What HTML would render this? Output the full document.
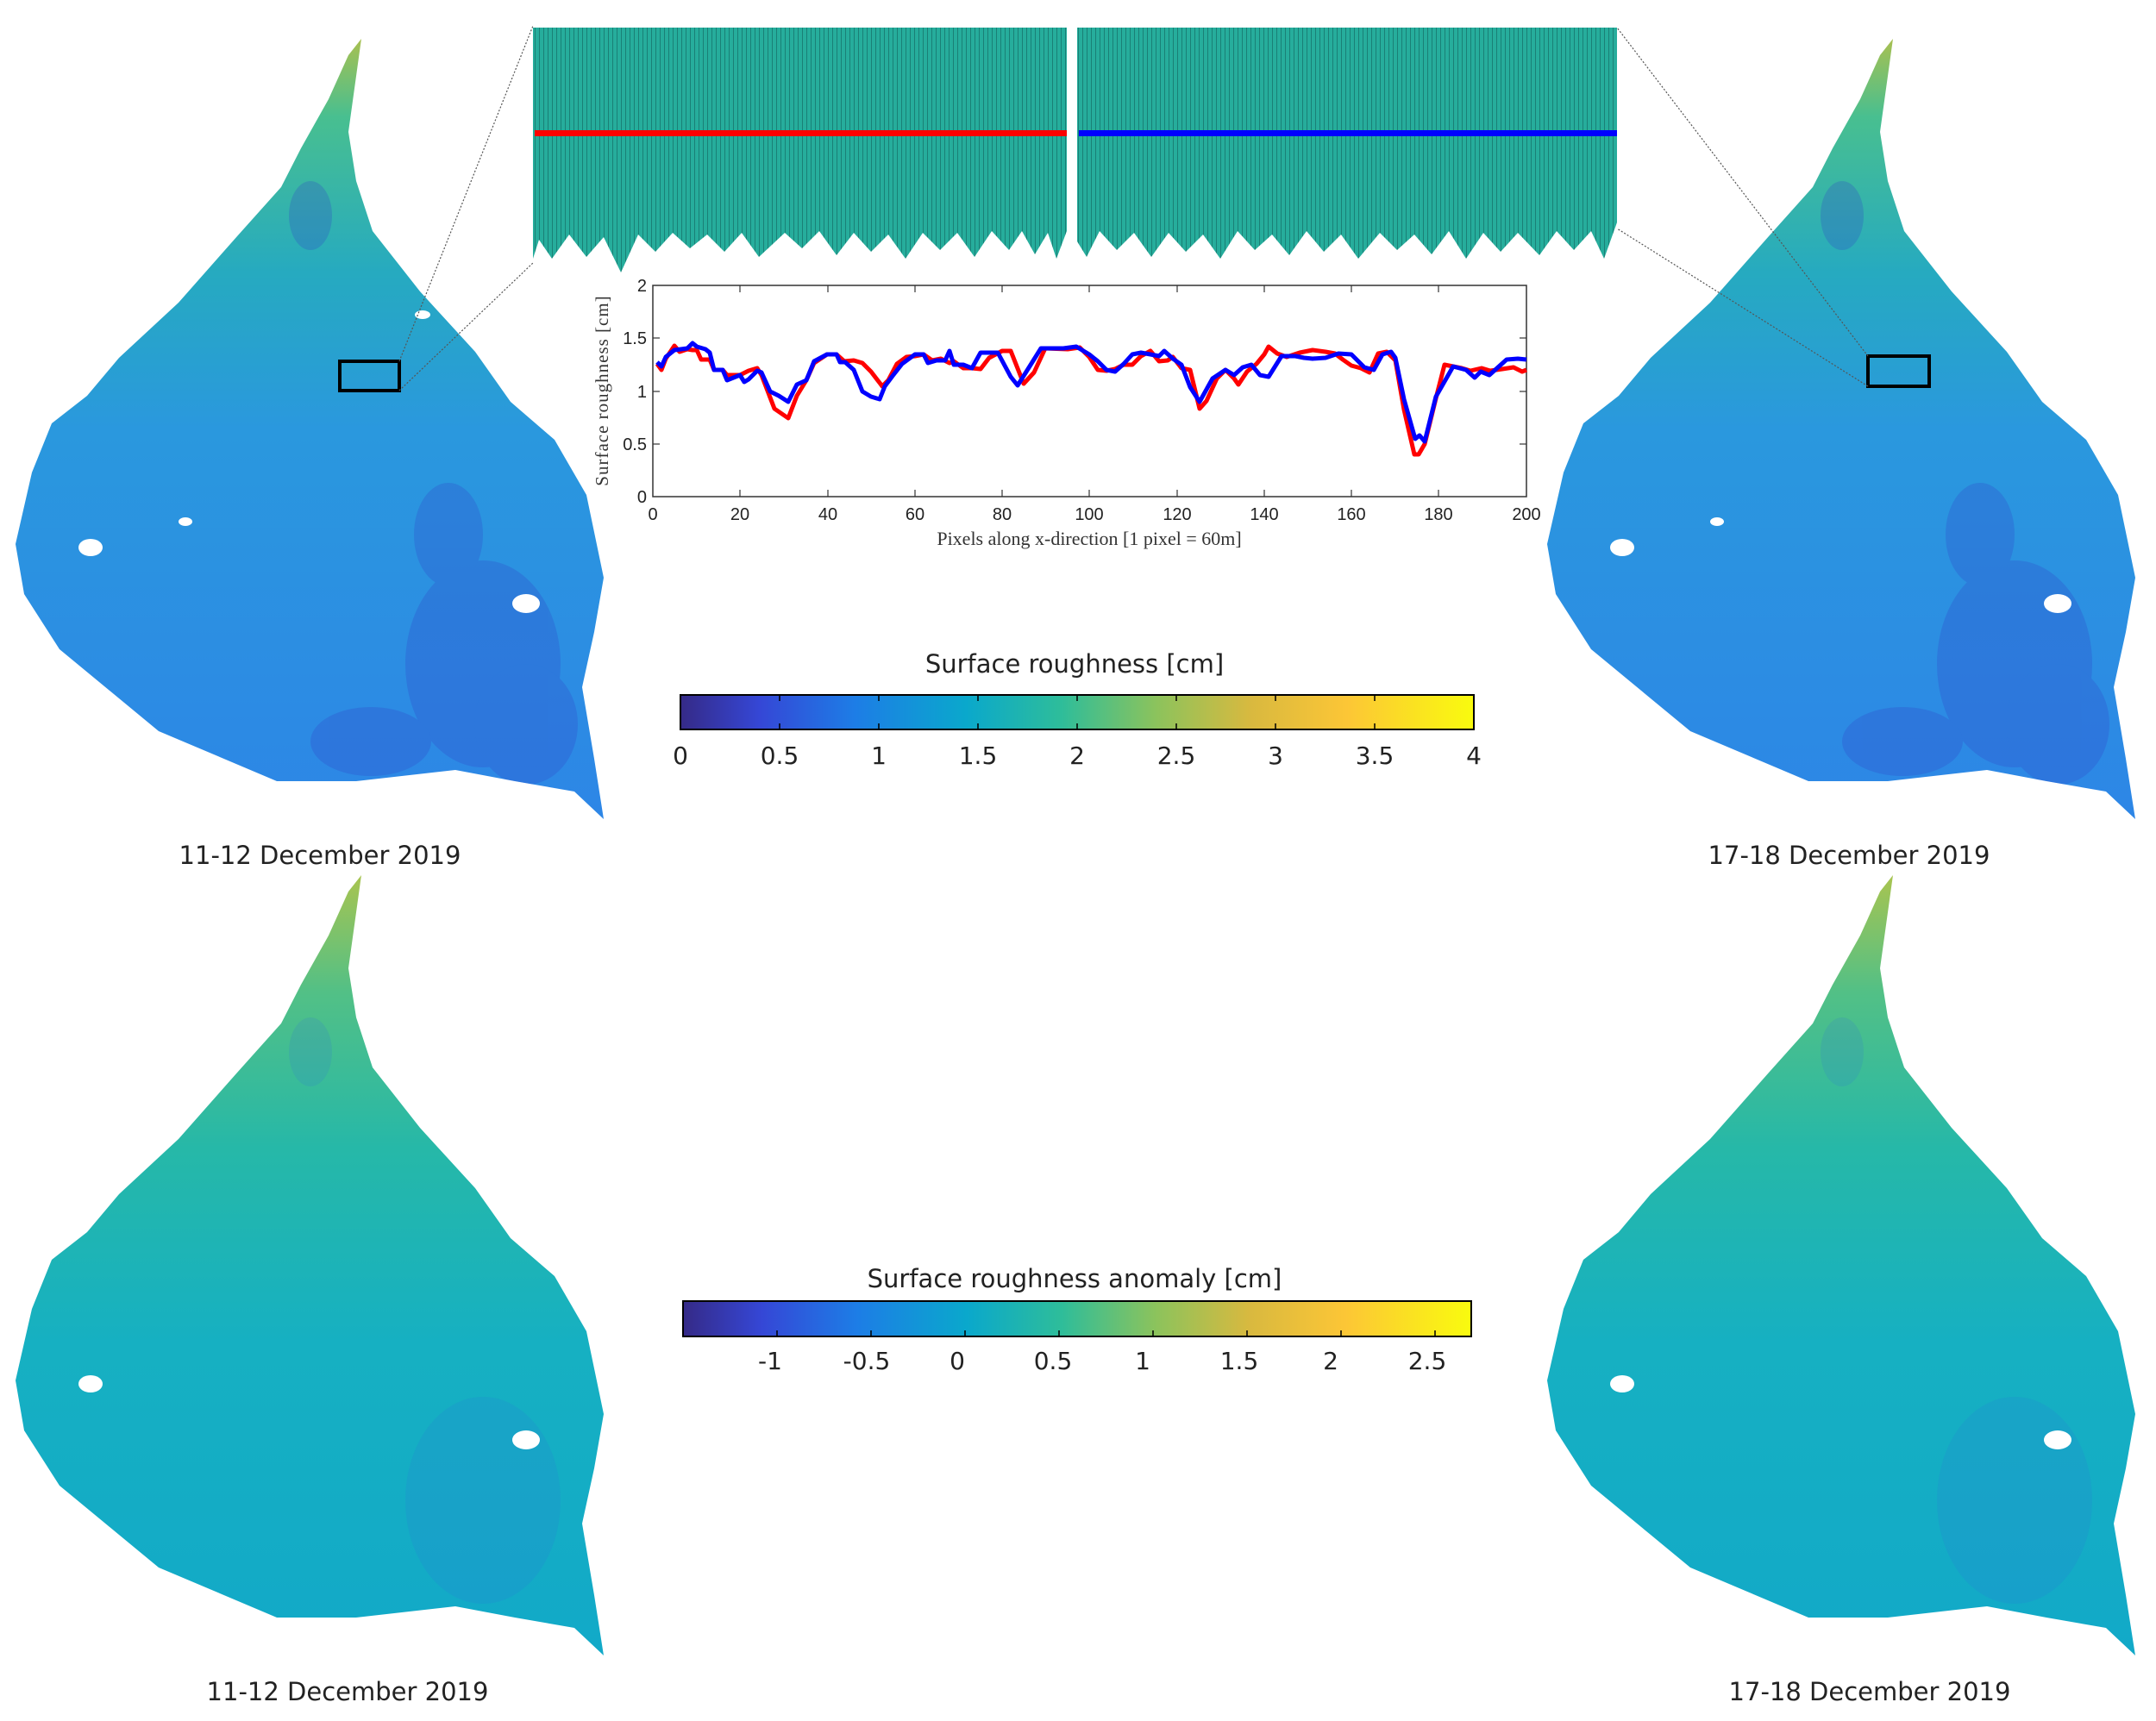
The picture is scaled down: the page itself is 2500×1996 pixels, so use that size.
<!DOCTYPE html>
<html><head><meta charset="utf-8"><style>
html,body{margin:0;padding:0;background:#fff;}
svg{display:block;}
</style></head><body>
<svg width="2500" height="1996" viewBox="0 0 2500 1996" xmlns="http://www.w3.org/2000/svg">
<defs>
<linearGradient id="parula" x1="0" x2="1" y1="0" y2="0">
<stop offset="0" stop-color="#352a87"/><stop offset="0.1" stop-color="#3547d6"/><stop offset="0.22" stop-color="#1d7de6"/><stop offset="0.36" stop-color="#0aa8cc"/><stop offset="0.48" stop-color="#2ebd9a"/><stop offset="0.6" stop-color="#8cc35c"/><stop offset="0.72" stop-color="#d9b93f"/><stop offset="0.84" stop-color="#fcc636"/><stop offset="1" stop-color="#f9fb0e"/>
</linearGradient>
<linearGradient id="mapA" x1="0" x2="0" y1="0" y2="1">
<stop offset="0" stop-color="#a8c050"/><stop offset="0.1" stop-color="#48bf90"/><stop offset="0.3" stop-color="#26aac0"/><stop offset="0.5" stop-color="#2a98de"/><stop offset="1" stop-color="#2d86e6"/>
</linearGradient>
<linearGradient id="mapB" x1="0" x2="0" y1="0" y2="1">
<stop offset="0" stop-color="#a8c450"/><stop offset="0.15" stop-color="#52c086"/><stop offset="0.35" stop-color="#26b8a8"/><stop offset="0.6" stop-color="#16b0c2"/><stop offset="1" stop-color="#12a9c8"/>
</linearGradient>
<pattern id="vl" width="5" height="10" patternUnits="userSpaceOnUse">
<rect width="5" height="10" fill="#26ad9c"/><rect x="0" width="1" height="10" fill="#0c4a48" opacity="0.45"/>
</pattern>
<path id="shape" d="M419,45 L404,64 381,115 349,172 326,217 275,274 207,351 138,415 101,459 60,491 37,548 18,631 28,689 69,753 115,791 184,848 321,906 413,906 528,893 597,906 666,918 700,950 689,880 675,797 689,733 700,670 680,574 643,510 592,466 551,408 487,338 432,268 413,210 404,153 Z"/>
<clipPath id="cA"><use href="#shape"/></clipPath>
</defs>

<!-- maps -->
<use href="#shape" fill="url(#mapA)"/>
<use href="#shape" fill="url(#mapA)" transform="translate(1776,0)"/>
<use href="#shape" fill="url(#mapB)" transform="translate(0,970)"/>
<use href="#shape" fill="url(#mapB)" transform="translate(1776,970)"/>
<g clip-path="url(#cA)" fill="#3040c8" opacity="0.25">
<ellipse cx="560" cy="770" rx="90" ry="120"/><ellipse cx="430" cy="860" rx="70" ry="40"/><ellipse cx="610" cy="840" rx="60" ry="70"/><ellipse cx="360" cy="250" rx="25" ry="40"/><ellipse cx="520" cy="620" rx="40" ry="60"/>
</g>
<g clip-path="url(#cA)" transform="translate(1776,0)" fill="#3040c8" opacity="0.25">
<ellipse cx="560" cy="770" rx="90" ry="120"/><ellipse cx="430" cy="860" rx="70" ry="40"/><ellipse cx="610" cy="840" rx="60" ry="70"/><ellipse cx="360" cy="250" rx="25" ry="40"/><ellipse cx="520" cy="620" rx="40" ry="60"/>
</g>
<g clip-path="url(#cA)" transform="translate(0,970)" fill="#2f6ae0" opacity="0.15">
<ellipse cx="560" cy="770" rx="90" ry="120"/><ellipse cx="360" cy="250" rx="25" ry="40"/>
</g>
<g clip-path="url(#cA)" transform="translate(1776,970)" fill="#2f6ae0" opacity="0.15">
<ellipse cx="560" cy="770" rx="90" ry="120"/><ellipse cx="360" cy="250" rx="25" ry="40"/>
</g>
<g fill="#fff">
<ellipse cx="105" cy="635" rx="14" ry="10"/><ellipse cx="610" cy="700" rx="16" ry="11"/><ellipse cx="215" cy="605" rx="8" ry="5"/><ellipse cx="490" cy="365" rx="9" ry="5"/>
<ellipse cx="1881" cy="635" rx="14" ry="10"/><ellipse cx="2386" cy="700" rx="16" ry="11"/><ellipse cx="1991" cy="605" rx="8" ry="5"/>
<ellipse cx="105" cy="1605" rx="14" ry="10"/><ellipse cx="610" cy="1670" rx="16" ry="11"/><ellipse cx="1881" cy="1605" rx="14" ry="10"/><ellipse cx="2386" cy="1670" rx="16" ry="11"/>
</g>
<rect x="394" y="419" width="69" height="34" fill="none" stroke="#000" stroke-width="4"/>
<rect x="2166" y="413" width="71" height="35" fill="none" stroke="#000" stroke-width="4"/>
<g stroke="#555" stroke-width="1.2" stroke-dasharray="2,2">
<line x1="463" y1="419" x2="618" y2="30"/><line x1="463" y1="453" x2="618" y2="305"/>
<line x1="2166" y1="413" x2="1875" y2="32"/><line x1="2166" y1="448" x2="1875" y2="265"/>
</g>

<!-- surface panels -->
<path d="M618,32 L1237,32 1237,268 1225,300 1215,270 1200,295 1185,268 1170,290 1150,268 1130,298 1110,270 1090,290 1070,270 1050,300 1030,272 1010,292 990,270 970,296 950,268 930,288 910,270 880,298 860,270 840,292 820,272 800,288 780,270 760,292 740,272 720,316 700,275 680,298 660,272 640,300 625,278 618,300 Z" fill="url(#vl)"/>
<path d="M1249,32 L1875,32 1875,258 1860,300 1845,268 1825,290 1805,268 1785,296 1760,270 1740,292 1720,270 1700,300 1680,268 1660,295 1640,272 1620,290 1600,270 1575,300 1555,272 1535,292 1515,268 1495,296 1475,272 1455,290 1435,268 1415,300 1395,272 1375,292 1355,270 1335,298 1315,270 1295,290 1275,268 1260,298 1249,280 Z" fill="url(#vl)"/>
<rect x="620" y="151" width="617" height="7" fill="#ff0000"/>
<rect x="1251" y="151" width="624" height="7" fill="#0000ff"/>

<!-- line chart -->
<g font-family="Liberation Sans, sans-serif" font-size="20" fill="#222">
<rect x="757" y="331" width="1013" height="245" fill="#fff" stroke="#333" stroke-width="1.5"/>
<g stroke="#333" stroke-width="1.2">
<line x1="757" y1="515" x2="765" y2="515"/><line x1="757" y1="454" x2="765" y2="454"/><line x1="757" y1="392" x2="765" y2="392"/>
<line x1="1762" y1="515" x2="1770" y2="515"/><line x1="1762" y1="454" x2="1770" y2="454"/><line x1="1762" y1="392" x2="1770" y2="392"/>
<line x1="858" y1="576" x2="858" y2="568"/><line x1="960" y1="576" x2="960" y2="568"/><line x1="1061" y1="576" x2="1061" y2="568"/><line x1="1162" y1="576" x2="1162" y2="568"/><line x1="1263" y1="576" x2="1263" y2="568"/><line x1="1365" y1="576" x2="1365" y2="568"/><line x1="1466" y1="576" x2="1466" y2="568"/><line x1="1567" y1="576" x2="1567" y2="568"/><line x1="1668" y1="576" x2="1668" y2="568"/>
<line x1="858" y1="331" x2="858" y2="339"/><line x1="960" y1="331" x2="960" y2="339"/><line x1="1061" y1="331" x2="1061" y2="339"/><line x1="1162" y1="331" x2="1162" y2="339"/><line x1="1263" y1="331" x2="1263" y2="339"/><line x1="1365" y1="331" x2="1365" y2="339"/><line x1="1466" y1="331" x2="1466" y2="339"/><line x1="1567" y1="331" x2="1567" y2="339"/><line x1="1668" y1="331" x2="1668" y2="339"/>
</g>
<g text-anchor="end"><text x="750" y="583">0</text><text x="750" y="522">0.5</text><text x="750" y="461">1</text><text x="750" y="399">1.5</text><text x="750" y="338">2</text></g>
<g text-anchor="middle"><text x="757" y="603">0</text><text x="858" y="603">20</text><text x="960" y="603">40</text><text x="1061" y="603">60</text><text x="1162" y="603">80</text><text x="1263" y="603">100</text><text x="1365" y="603">120</text><text x="1466" y="603">140</text><text x="1567" y="603">160</text><text x="1668" y="603">180</text><text x="1770" y="603">200</text></g>
<text x="1263" y="632" text-anchor="middle" font-family="Liberation Serif, serif" font-size="22" fill="#333">Pixels along x-direction [1 pixel = 60m]</text>
<text transform="translate(705,453) rotate(-90)" text-anchor="middle" font-family="Liberation Serif, serif" font-size="21" fill="#333" letter-spacing="1">Surface roughness [cm]</text>
</g>
<polyline fill="none" stroke="#ff0000" stroke-width="5" stroke-linejoin="round" points="762,422 767,429 772,416 782,401 788,408 797,405 803,406 808,406 813,417 823,417 828,429 838,429 843,435 853,435 858,435 868,430 878,427 883,435 898,474 914,485 924,459 935,441 944,421 959,411 970,411 979,419 990,418 1000,421 1010,431 1020,444 1023,448 1030,441 1040,422 1051,414 1061,413 1071,411 1081,418 1091,416 1101,421 1106,419 1117,427 1127,427 1137,428 1147,415 1162,407 1172,407 1187,445 1199,432 1212,404 1238,405 1252,403 1263,414 1273,429 1283,430 1293,428 1303,423 1313,423 1323,413 1334,407 1344,419 1354,418 1360,414 1370,427 1380,429 1391,474 1399,465 1411,439 1421,429 1431,439 1436,446 1446,431 1457,422 1466,411 1471,402 1481,410 1492,414 1507,409 1522,406 1537,408 1548,410 1557,417 1567,424 1578,427 1588,432 1598,410 1608,408 1618,418 1628,475 1640,527 1645,527 1652,515 1665,462 1675,423 1685,425 1695,427 1705,430 1718,427 1728,430 1742,428 1755,426 1765,431 1770,429"/>
<polyline fill="none" stroke="#0000ff" stroke-width="5" stroke-linejoin="round" points="762,420 767,425 772,414 782,406 797,404 803,398 808,402 818,405 823,409 828,429 838,429 843,441 853,437 858,435 863,443 868,440 878,430 883,432 893,454 903,459 914,466 924,446 935,441 944,419 959,411 970,411 974,420 980,420 990,429 1000,454 1010,460 1020,463 1026,448 1035,436 1046,422 1061,411 1071,411 1076,421 1086,418 1096,418 1101,407 1106,423 1117,423 1127,427 1137,409 1157,409 1172,437 1180,447 1192,428 1207,404 1233,404 1248,402 1263,411 1273,419 1283,429 1293,431 1303,422 1313,411 1323,409 1334,411 1344,413 1350,407 1360,416 1370,423 1380,449 1391,466 1406,439 1421,429 1431,435 1441,426 1451,423 1461,435 1471,437 1486,413 1502,413 1512,415 1522,416 1537,415 1552,410 1567,411 1582,426 1593,429 1603,411 1613,408 1618,415 1628,463 1641,509 1646,505 1652,512 1665,460 1685,425 1700,429 1710,438 1717,431 1727,435 1747,417 1760,416 1770,417"/>

<!-- colorbars -->
<g font-family="DejaVu Sans, Liberation Sans, sans-serif" fill="#222">
<text x="1246" y="780" text-anchor="middle" font-size="29">Surface roughness [cm]</text>
<rect x="789" y="806" width="920" height="40" fill="url(#parula)" stroke="#000" stroke-width="2"/>
<g stroke="#000" stroke-width="1.5">
<line x1="904" y1="846" x2="904" y2="839"/><line x1="1019" y1="846" x2="1019" y2="839"/><line x1="1134" y1="846" x2="1134" y2="839"/><line x1="1249" y1="846" x2="1249" y2="839"/><line x1="1364" y1="846" x2="1364" y2="839"/><line x1="1479" y1="846" x2="1479" y2="839"/><line x1="1594" y1="846" x2="1594" y2="839"/>
<line x1="904" y1="806" x2="904" y2="813"/><line x1="1019" y1="806" x2="1019" y2="813"/><line x1="1134" y1="806" x2="1134" y2="813"/><line x1="1249" y1="806" x2="1249" y2="813"/><line x1="1364" y1="806" x2="1364" y2="813"/><line x1="1479" y1="806" x2="1479" y2="813"/><line x1="1594" y1="806" x2="1594" y2="813"/>
</g>
<g text-anchor="middle" font-size="28"><text x="789" y="886">0</text><text x="904" y="886">0.5</text><text x="1019" y="886">1</text><text x="1134" y="886">1.5</text><text x="1249" y="886">2</text><text x="1364" y="886">2.5</text><text x="1479" y="886">3</text><text x="1594" y="886">3.5</text><text x="1709" y="886">4</text></g>

<text x="1246" y="1493" text-anchor="middle" font-size="29">Surface roughness anomaly [cm]</text>
<rect x="792" y="1509" width="914" height="41" fill="url(#parula)" stroke="#000" stroke-width="2"/>
<g stroke="#000" stroke-width="1.5">
<line x1="901" y1="1550" x2="901" y2="1543"/><line x1="1010" y1="1550" x2="1010" y2="1543"/><line x1="1119" y1="1550" x2="1119" y2="1543"/><line x1="1228" y1="1550" x2="1228" y2="1543"/><line x1="1337" y1="1550" x2="1337" y2="1543"/><line x1="1446" y1="1550" x2="1446" y2="1543"/><line x1="1555" y1="1550" x2="1555" y2="1543"/><line x1="1664" y1="1550" x2="1664" y2="1543"/>
</g>
<g text-anchor="middle" font-size="28"><text x="893" y="1588">-1</text><text x="1005" y="1588">-0.5</text><text x="1110" y="1588">0</text><text x="1221" y="1588">0.5</text><text x="1325" y="1588">1</text><text x="1437" y="1588">1.5</text><text x="1543" y="1588">2</text><text x="1655" y="1588">2.5</text></g>

<g font-size="29" text-anchor="middle">
<text x="371" y="1002">11-12 December 2019</text>
<text x="2144" y="1002">17-18 December 2019</text>
<text x="403" y="1972">11-12 December 2019</text>
<text x="2168" y="1972">17-18 December 2019</text>
</g>
</g>
</svg>
</body></html>
